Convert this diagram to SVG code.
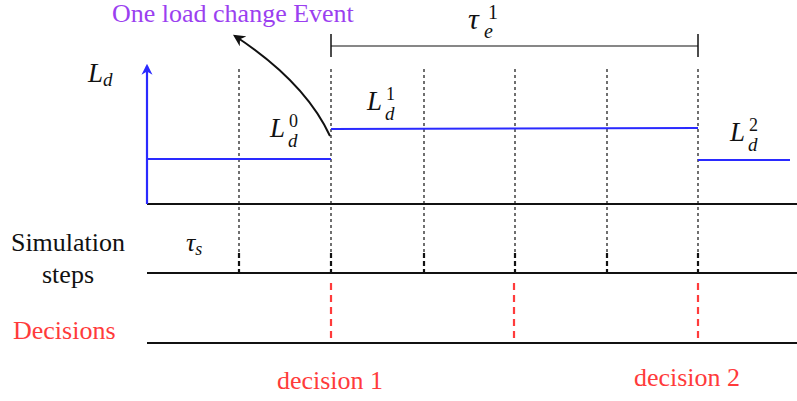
<svg xmlns="http://www.w3.org/2000/svg" width="797" height="401" viewBox="0 0 797 401">
<defs>
<marker id="ah" viewBox="0 0 10 10" refX="8" refY="5" markerWidth="12" markerHeight="12" orient="auto" markerUnits="userSpaceOnUse"><path d="M0,0 L10,5 L0,10 L3,5 z" fill="#111"/></marker>
<marker id="ahb" viewBox="0 0 10 10" refX="8" refY="5" markerWidth="11" markerHeight="12" orient="auto" markerUnits="userSpaceOnUse"><path d="M0,0 L10,5 L0,10 L3,5 z" fill="#2a2aff"/></marker>
</defs>
<g id="connectors" fill="none">
<g id="axes" stroke="#111" stroke-width="2">
<line x1="147" y1="204" x2="797" y2="204"/>
<line x1="147" y1="273" x2="797" y2="273"/>
<line x1="147" y1="343" x2="797" y2="343"/>
</g>
<g id="dotted" stroke="#111" stroke-width="1.2" stroke-dasharray="3 3">
<line x1="239" y1="69" x2="239" y2="252"/>
<line x1="331" y1="69" x2="331" y2="252"/>
<line x1="424" y1="69" x2="424" y2="252"/>
<line x1="515" y1="69" x2="515" y2="252"/>
<line x1="607" y1="69" x2="607" y2="252"/>
<line x1="698" y1="69" x2="698" y2="252"/>
</g>
<g id="ticks" stroke="#111" stroke-width="2.2" stroke-dasharray="5 3">
<line x1="239" y1="253" x2="239" y2="273"/>
<line x1="331" y1="253" x2="331" y2="273"/>
<line x1="424" y1="253" x2="424" y2="273"/>
<line x1="515" y1="253" x2="515" y2="273"/>
<line x1="607" y1="253" x2="607" y2="273"/>
<line x1="698" y1="253" x2="698" y2="273"/>
</g>
<g id="decisionmarks" stroke="#ff3b3b" stroke-width="2.2" stroke-dasharray="7 5">
<line x1="331" y1="283" x2="331" y2="343"/>
<line x1="514" y1="283" x2="514" y2="343"/>
<line x1="698" y1="283" x2="698" y2="343"/>
</g>
<g id="loadline" stroke="#2a2aff" stroke-width="2.2">
<line x1="147" y1="204" x2="147" y2="66" marker-end="url(#ahb)"/>
<polyline points="147,159 331,159"/>
<polyline points="331,129 698,128"/>
<polyline points="698,160 790,160"/>
</g>
<g id="bracket" stroke="#111">
<line stroke-width="1.2" x1="331" y1="46" x2="698" y2="46"/>
<line stroke-width="1.5" x1="331" y1="34" x2="331" y2="57"/>
<line stroke-width="1.5" x1="698" y1="34" x2="698" y2="57"/>
</g>
<path id="event-arrow" d="M330,136 Q305,82 235,36" stroke="#111" stroke-width="2" marker-end="url(#ah)"/>
</g>
<g id="labels">
<text x="112" y="22" font-family="Times New Roman" font-size="26" fill="#9b3ff0">One load change Event</text>
<text x="88" y="82" font-family="Times New Roman" font-style="italic" fill="#111" font-size="27">L<tspan font-size="19" dy="4">d</tspan></text>
<text x="270" y="137" font-family="Times New Roman" font-style="italic" fill="#111" font-size="27">L</text>
<text x="289" y="127" font-family="Times New Roman" fill="#111" font-size="18">0</text>
<text x="288" y="147" font-family="Times New Roman" font-style="italic" fill="#111" font-size="19">d</text>
<text x="367" y="110" font-family="Times New Roman" font-style="italic" fill="#111" font-size="27">L</text>
<text x="386" y="100" font-family="Times New Roman" fill="#111" font-size="18">1</text>
<text x="385" y="120" font-family="Times New Roman" font-style="italic" fill="#111" font-size="19">d</text>
<text x="730" y="141" font-family="Times New Roman" font-style="italic" fill="#111" font-size="27">L</text>
<text x="749" y="131" font-family="Times New Roman" fill="#111" font-size="18">2</text>
<text x="748" y="151" font-family="Times New Roman" font-style="italic" fill="#111" font-size="19">d</text>
<text x="468" y="29" font-family="Times New Roman" font-style="italic" fill="#111" font-size="30">τ</text>
<text x="484" y="38" font-family="Times New Roman" font-style="italic" fill="#111" font-size="20">e</text>
<text x="488" y="19" font-family="Times New Roman" fill="#111" font-size="20">1</text>
<text x="186" y="251" font-family="Times New Roman" font-style="italic" fill="#111" font-size="26">τ<tspan font-size="18" dy="4">s</tspan></text>
<text x="68" y="251" font-family="Times New Roman" font-size="26" fill="#111" text-anchor="middle">Simulation</text>
<text x="68" y="283" font-family="Times New Roman" font-size="26" fill="#111" text-anchor="middle">steps</text>
<text x="13" y="339" font-family="Times New Roman" font-size="26" fill="#ff3b3b">Decisions</text>
<text x="330" y="389" font-family="Times New Roman" font-size="26" text-anchor="middle" fill="#ff3b3b">decision 1</text>
<text x="687" y="386" font-family="Times New Roman" font-size="26" text-anchor="middle" fill="#ff3b3b">decision 2</text>
</g>
</svg>
